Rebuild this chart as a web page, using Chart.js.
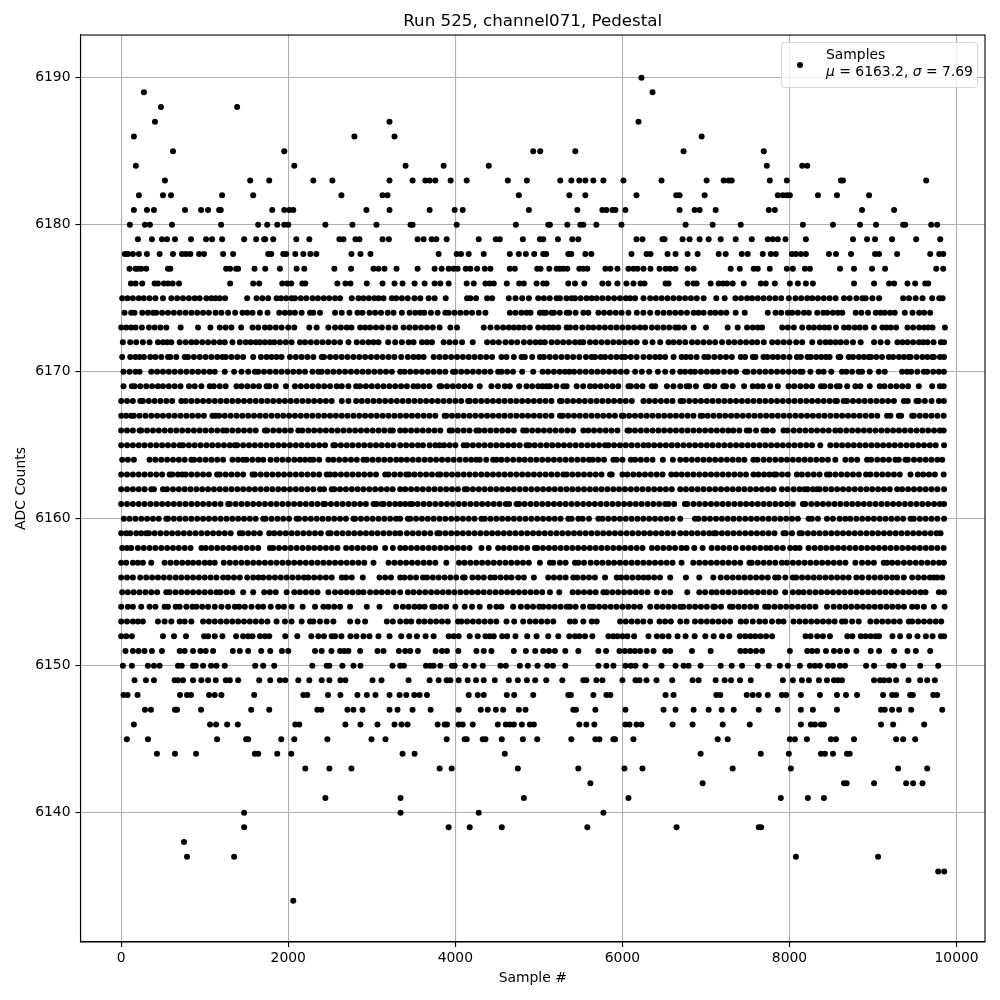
<!DOCTYPE html>
<html>
<head>
<meta charset="utf-8">
<title>Run 525, channel071, Pedestal</title>
<script src="https://cdn.jsdelivr.net/npm/chart.js@4"></script>
<style>
  html, body { margin: 0; padding: 0; background: #fff; }
  canvas { display: block; }
</style>
</head>
<body>
<canvas id="pedestalChart" width="1000" height="1000"></canvas>
<script>
// Sample numbers, one list per ADC level
const adc6190 = [6228];
const adc6189 = [272, 6360];
const adc6188 = [476, 1388];
const adc6187 = [404, 3212, 6192];
const adc6186 = [152, 2792, 3272, 6948];
const adc6185 = [620, 1952, 4932, 5016, 5436, 6732, 7692];
const adc6184 = [176, 2072, 3404, 3860, 4400, 7728, 8152, 8212];
const adc6183 = [524, 1544, 1772, 2300, 2528, 3212, 3488, 3640, 3692, 3760, 3944, 4136, 4628, 4856, 5256, 5388, 5484, 5556, 5652, 5772, 6012, 6468, 7008, 7212, 7272, 7308, 7764, 7968, 8616, 8640, 9636];
const adc6182 = [212, 500, 596, 1208, 1580, 2636, 3128, 3188, 4760, 5364, 5556, 6168, 6644, 6684, 6984, 7860, 7920, 7968, 8004, 8340, 8568, 8952];
const adc6181 = [152, 308, 392, 764, 956, 1040, 1172, 1192, 1808, 1952, 2012, 2060, 2936, 3212, 3692, 3992, 4088, 4880, 5460, 5760, 5808, 5880, 5916, 6036, 6684, 6864, 6924, 7116, 7752, 7824, 8868, 9252];
const adc6180 = [104, 284, 344, 608, 1196, 1640, 1748, 1868, 1952, 2000, 2444, 2768, 3056, 3464, 3488, 4016, 4724, 5112, 5132, 5340, 5496, 5532, 5688, 5988, 6756, 7080, 7416, 8160, 8520, 8844, 9036, 9360, 9384, 9696, 9768];
const adc6179 = [200, 368, 488, 548, 644, 836, 1016, 1088, 1208, 1472, 1616, 1712, 1724, 1820, 2096, 2252, 2612, 2660, 2804, 2852, 3128, 3204, 3548, 3620, 3716, 3772, 3896, 4280, 4484, 4532, 4808, 5012, 5052, 5228, 5400, 5472, 6168, 6240, 6480, 6504, 6720, 6804, 6924, 7032, 7176, 7356, 7548, 7740, 7800, 7860, 7952, 8196, 8760, 8928, 9024, 9228, 9516, 9804];
const adc6178 = [44, 80, 140, 212, 308, 460, 620, 728, 776, 828, 932, 992, 1220, 1340, 1760, 1796, 1940, 1976, 2084, 2180, 2264, 2336, 2756, 2864, 2984, 3800, 4016, 4068, 4160, 4340, 4652, 4760, 4844, 4944, 5052, 5088, 5352, 5388, 5556, 5628, 6108, 6288, 6336, 6540, 6636, 6780, 6900, 7152, 7236, 7428, 7500, 7680, 7776, 7836, 8028, 8076, 8136, 8196, 8472, 8556, 8736, 9024, 9072, 9288, 9684, 9792, 9840];
const adc6177 = [100, 172, 200, 240, 300, 560, 588, 1256, 1304, 1376, 1400, 1596, 1724, 1900, 2100, 2192, 2552, 2752, 3020, 3080, 3152, 3296, 3548, 3752, 3836, 3920, 3980, 4028, 4124, 4180, 4260, 4352, 4420, 4652, 4712, 4980, 5020, 5124, 5212, 5252, 5292, 5340, 5484, 5530, 5580, 5796, 5856, 5940, 6072, 6132, 6180, 6252, 6336, 6444, 6516, 6572, 6636, 6780, 6852, 7296, 7404, 7572, 7620, 7764, 7968, 8040, 8184, 8244, 8604, 8772, 8988, 9144, 9756, 9840];
const adc6176 = [116, 172, 252, 400, 440, 512, 560, 616, 692, 1304, 1580, 1652, 1928, 1988, 2036, 2168, 2204, 2588, 2684, 2744, 2940, 3128, 3272, 3368, 3512, 3632, 3752, 3820, 3920, 4136, 4220, 4360, 4410, 4460, 4616, 4764, 4820, 4972, 5052, 5092, 5352, 5432, 5544, 5760, 5832, 5940, 6048, 6132, 6216, 6264, 6516, 6552, 6780, 6852, 6888, 7056, 7152, 7204, 7252, 7320, 7452, 7656, 7716, 7824, 8004, 8100, 8196, 8280, 8772, 9012, 9192, 9252, 9412, 9504, 9624, 9660];
const adc6175 = [12, 75, 140, 210, 270, 340, 410, 500, 600, 670, 740, 810, 880, 940, 1020, 1080, 1130, 1180, 1244, 1508, 1620, 1690, 1760, 1860, 1912, 1975, 2040, 2080, 2150, 2215, 2290, 2355, 2425, 2490, 2560, 2620, 2760, 2840, 2900, 2965, 3030, 3080, 3140, 3240, 3292, 3360, 3430, 3510, 3580, 3680, 3752, 3884, 4140, 4180, 4248, 4380, 4440, 4640, 4720, 4800, 4880, 4992, 5060, 5130, 5212, 5252, 5330, 5392, 5432, 5500, 5570, 5632, 5692, 5760, 5830, 5900, 5970, 6040, 6092, 6152, 6252, 6332, 6400, 6470, 6540, 6610, 6680, 6750, 6820, 6890, 6972, 7124, 7224, 7352, 7420, 7492, 7552, 7620, 7690, 7760, 7830, 7900, 7992, 8072, 8140, 8212, 8272, 8340, 8410, 8480, 8552, 8652, 8720, 8800, 8872, 8912, 8992, 9072, 9360, 9430, 9510, 9592, 9708, 9792, 9832];
const adc6174 = [40, 120, 160, 252, 320, 380, 420, 490, 560, 630, 700, 770, 840, 910, 980, 1050, 1130, 1200, 1280, 1364, 1452, 1508, 1572, 1660, 1752, 1892, 1960, 2020, 2080, 2160, 2260, 2300, 2380, 2560, 2640, 2732, 2828, 2888, 2972, 3040, 3110, 3190, 3260, 3360, 3452, 3520, 3580, 3628, 3708, 3788, 3880, 3920, 3990, 4060, 4130, 4200, 4280, 4360, 4652, 4720, 4790, 4850, 4900, 5012, 5052, 5084, 5152, 5180, 5250, 5332, 5364, 5440, 5532, 5592, 5712, 5780, 5850, 5920, 5990, 6072, 6172, 6250, 6332, 6420, 6492, 6564, 6632, 6700, 6772, 6852, 6910, 6972, 7052, 7112, 7180, 7244, 7356, 7464, 7740, 7832, 7900, 7980, 8032, 8100, 8172, 8232, 8332, 8404, 8452, 8520, 8580, 8632, 8792, 8860, 8940, 9032, 9090, 9140, 9204, 9260, 9380, 9472, 9552, 9612, 9684];
const adc6173 = [0, 60, 120, 172, 248, 332, 400, 470, 540, 712, 920, 1068, 1180, 1250, 1320, 1436, 1572, 1640, 1720, 1780, 1850, 1920, 2000, 2072, 2252, 2340, 2480, 2560, 2630, 2700, 2756, 2860, 2920, 2980, 3050, 3120, 3200, 3280, 3380, 3450, 3520, 3590, 3660, 3730, 3812, 3940, 4020, 4340, 4420, 4500, 4572, 4640, 4700, 4760, 4820, 4892, 4992, 5060, 5120, 5172, 5232, 5332, 5372, 5440, 5520, 5592, 5652, 5720, 5790, 5860, 5930, 6000, 6070, 6140, 6210, 6272, 6352, 6420, 6490, 6560, 6632, 6672, 6740, 6852, 7000, 7260, 7380, 7492, 7560, 7620, 7672, 7912, 7980, 8052, 8152, 8232, 8292, 8360, 8420, 8472, 8556, 8652, 8710, 8780, 8840, 8908, 9012, 9112, 9160, 9212, 9276, 9412, 9480, 9552, 9612, 9660, 9712, 9860];
const adc6172 = [20, 108, 180, 260, 340, 440, 500, 550, 600, 700, 772, 840, 900, 970, 1040, 1110, 1180, 1240, 1332, 1420, 1490, 1550, 1612, 1660, 1720, 1780, 1832, 1900, 1970, 2040, 2140, 2200, 2270, 2340, 2410, 2480, 2550, 2620, 2720, 2820, 2890, 2960, 3020, 3080, 3196, 3280, 3360, 3440, 3500, 3600, 3660, 3720, 3860, 3930, 4000, 4080, 4208, 4380, 4450, 4520, 4600, 4670, 4740, 4820, 4892, 4960, 5020, 5072, 5152, 5220, 5290, 5360, 5432, 5492, 5532, 5612, 5680, 5750, 5820, 5890, 5960, 6030, 6100, 6170, 6272, 6360, 6452, 6552, 6612, 6680, 6752, 6832, 6900, 6970, 7040, 7110, 7192, 7272, 7340, 7410, 7480, 7550, 7612, 7692, 7792, 7860, 7930, 8000, 8080, 8152, 8272, 8364, 8432, 8490, 8552, 8612, 8680, 8760, 8852, 9012, 9090, 9172, 9292, 9352, 9412, 9480, 9550, 9600, 9652, 9724, 9812, 9850];
const adc6171 = [12, 108, 170, 220, 272, 348, 410, 480, 560, 588, 660, 760, 800, 870, 940, 1010, 1080, 1150, 1212, 1252, 1320, 1390, 1460, 1580, 1672, 1740, 1800, 1860, 1920, 2020, 2090, 2160, 2230, 2300, 2400, 2428, 2500, 2570, 2640, 2710, 2780, 2850, 2920, 2990, 3060, 3130, 3200, 3270, 3352, 3432, 3500, 3560, 3620, 3740, 3810, 3880, 3950, 4020, 4090, 4160, 4230, 4300, 4370, 4440, 4552, 4612, 4700, 4792, 4832, 4920, 5012, 5060, 5130, 5200, 5270, 5340, 5410, 5484, 5564, 5632, 5672, 5740, 5792, 5860, 5930, 5992, 6032, 6100, 6170, 6252, 6324, 6392, 6450, 6512, 6612, 6708, 6760, 6816, 6888, 6980, 7028, 7100, 7170, 7240, 7310, 7416, 7468, 7560, 7592, 7688, 7736, 7800, 7860, 7928, 8000, 8088, 8136, 8216, 8256, 8320, 8380, 8436, 8480, 8588, 8608, 8708, 8760, 8830, 8890, 8948, 8976, 9040, 9108, 9188, 9240, 9310, 9370, 9428, 9448, 9520, 9590, 9650, 9708, 9728, 9800, 9850];
const adc6170 = [28, 100, 170, 220, 360, 430, 500, 570, 640, 710, 780, 850, 920, 990, 1060, 1120, 1240, 1352, 1440, 1520, 1600, 1640, 1710, 1780, 1850, 1920, 1990, 2060, 2130, 2200, 2290, 2360, 2400, 2470, 2540, 2610, 2680, 2750, 2820, 2890, 2960, 3030, 3100, 3170, 3240, 3340, 3392, 3460, 3530, 3600, 3670, 3740, 3810, 3880, 3972, 4000, 4070, 4140, 4210, 4280, 4350, 4420, 4512, 4552, 4620, 4690, 4800, 4932, 5044, 5110, 5180, 5250, 5312, 5364, 5420, 5490, 5560, 5630, 5700, 5770, 5840, 5910, 5980, 6050, 6152, 6232, 6320, 6424, 6512, 6600, 6692, 6750, 6816, 6868, 6940, 7010, 7080, 7140, 7216, 7290, 7360, 7468, 7496, 7570, 7640, 7710, 7780, 7850, 7920, 7990, 8060, 8128, 8156, 8250, 8348, 8408, 8500, 8628, 8680, 8750, 8828, 8868, 8960, 9068, 9140, 9348, 9408, 9456, 9530, 9608, 9648, 9720, 9788, 9848];
const adc6169 = [28, 128, 160, 228, 300, 370, 440, 500, 570, 640, 710, 812, 880, 960, 1060, 1108, 1180, 1250, 1380, 1440, 1510, 1580, 1650, 1740, 1772, 1850, 1972, 2080, 2150, 2220, 2290, 2360, 2430, 2500, 2580, 2640, 2720, 2812, 2860, 2930, 3000, 3070, 3140, 3210, 3280, 3350, 3420, 3500, 3552, 3620, 3690, 3812, 3832, 3900, 3970, 4040, 4110, 4180, 4292, 4432, 4510, 4592, 4652, 4764, 4852, 4920, 4992, 5044, 5092, 5132, 5210, 5292, 5332, 5452, 5530, 5612, 5672, 5740, 5810, 5880, 5950, 6072, 6100, 6170, 6240, 6352, 6392, 6532, 6610, 6692, 6768, 6800, 6880, 7000, 7028, 7100, 7208, 7240, 7320, 7456, 7560, 7620, 7680, 7768, 7860, 7988, 8056, 8130, 8200, 8270, 8376, 8416, 8490, 8568, 8600, 8690, 8788, 8848, 8960, 9080, 9136, 9210, 9280, 9350, 9420, 9548, 9708, 9800, 9845];
const adc6168 = [0, 70, 140, 228, 260, 330, 400, 470, 540, 610, 720, 772, 840, 910, 980, 1050, 1120, 1190, 1260, 1330, 1400, 1470, 1540, 1610, 1680, 1750, 1820, 1890, 1960, 2030, 2100, 2170, 2240, 2310, 2380, 2450, 2520, 2640, 2720, 2812, 2880, 2950, 3020, 3090, 3160, 3230, 3300, 3370, 3440, 3510, 3580, 3650, 3720, 3790, 3860, 3930, 4000, 4070, 4152, 4172, 4240, 4310, 4380, 4450, 4520, 4590, 4660, 4730, 4800, 4870, 4940, 5010, 5080, 5150, 5252, 5272, 5340, 5410, 5480, 5550, 5620, 5690, 5760, 5830, 5900, 5970, 6040, 6112, 6252, 6320, 6390, 6460, 6530, 6600, 6696, 6728, 6800, 6870, 6940, 7010, 7080, 7150, 7220, 7290, 7360, 7430, 7500, 7570, 7640, 7710, 7780, 7850, 7920, 7990, 8060, 8130, 8200, 8270, 8340, 8410, 8480, 8548, 8568, 8648, 8688, 8760, 8830, 8900, 8970, 9040, 9110, 9180, 9250, 9368, 9416, 9520, 9548, 9620, 9700, 9788, 9848];
const adc6167 = [0, 60, 120, 152, 220, 290, 360, 430, 500, 570, 640, 710, 780, 850, 920, 990, 1092, 1128, 1172, 1240, 1310, 1380, 1450, 1520, 1590, 1660, 1730, 1800, 1870, 1940, 2010, 2080, 2150, 2220, 2290, 2360, 2430, 2500, 2570, 2640, 2710, 2780, 2850, 2920, 2990, 3060, 3130, 3200, 3270, 3340, 3410, 3480, 3550, 3620, 3690, 3760, 3872, 3892, 3960, 4030, 4100, 4170, 4240, 4310, 4380, 4450, 4520, 4590, 4660, 4730, 4800, 4870, 4940, 5010, 5080, 5150, 5252, 5284, 5350, 5420, 5490, 5560, 5630, 5700, 5770, 5840, 5910, 5992, 6012, 6080, 6150, 6220, 6290, 6360, 6430, 6500, 6570, 6640, 6710, 6780, 6850, 6936, 6956, 7020, 7090, 7160, 7230, 7300, 7370, 7440, 7510, 7580, 7650, 7720, 7790, 7860, 7930, 8000, 8070, 8140, 8210, 8280, 8350, 8420, 8490, 8560, 8630, 8700, 8770, 8840, 8910, 8980, 9050, 9168, 9208, 9308, 9336, 9468, 9488, 9560, 9630, 9700, 9770, 9845];
const adc6166 = [0, 70, 140, 220, 240, 310, 380, 450, 520, 590, 660, 730, 800, 870, 940, 1010, 1080, 1150, 1220, 1260, 1330, 1400, 1470, 1540, 1610, 1720, 1748, 1820, 1890, 1960, 2030, 2120, 2168, 2240, 2310, 2380, 2450, 2520, 2590, 2660, 2730, 2800, 2870, 2940, 3010, 3080, 3150, 3220, 3252, 3340, 3400, 3470, 3540, 3610, 3680, 3750, 3820, 3932, 3960, 4030, 4100, 4170, 4252, 4284, 4350, 4420, 4490, 4560, 4630, 4700, 4812, 4852, 4920, 4990, 5060, 5130, 5200, 5270, 5340, 5410, 5532, 5592, 5660, 5730, 5800, 5870, 5940, 6060, 6084, 6150, 6220, 6290, 6360, 6430, 6500, 6570, 6640, 6710, 6780, 6850, 6920, 6990, 7060, 7130, 7200, 7268, 7328, 7400, 7488, 7520, 7600, 7688, 7728, 7800, 7928, 7976, 8050, 8120, 8190, 8260, 8330, 8400, 8470, 8548, 8608, 8680, 8750, 8820, 8890, 8960, 9030, 9100, 9170, 9240, 9310, 9380, 9450, 9520, 9590, 9660, 9730, 9800, 9845];
const adc6165 = [0, 70, 140, 210, 280, 350, 420, 490, 560, 630, 700, 740, 810, 880, 950, 1020, 1090, 1160, 1230, 1300, 1360, 1388, 1460, 1530, 1600, 1670, 1740, 1810, 1880, 1950, 2020, 2090, 2160, 2230, 2300, 2370, 2440, 2540, 2560, 2630, 2700, 2770, 2840, 2910, 2980, 3050, 3120, 3190, 3260, 3340, 3410, 3480, 3552, 3612, 3692, 3760, 3812, 3864, 3932, 4000, 4100, 4140, 4210, 4280, 4350, 4420, 4490, 4560, 4630, 4700, 4770, 4852, 4884, 4950, 5020, 5090, 5160, 5230, 5300, 5370, 5440, 5510, 5580, 5650, 5720, 5792, 5832, 5900, 5970, 6040, 6110, 6180, 6252, 6312, 6380, 6450, 6520, 6590, 6660, 6730, 6800, 6870, 6940, 7010, 7080, 7150, 7220, 7290, 7360, 7430, 7500, 7570, 7640, 7710, 7780, 7850, 7920, 7990, 8060, 8130, 8200, 8270, 8368, 8488, 8560, 8630, 8700, 8770, 8840, 8910, 8980, 9050, 9120, 9190, 9260, 9330, 9400, 9470, 9540, 9610, 9680, 9750, 9850];
const adc6164 = [12, 80, 152, 340, 410, 480, 550, 620, 690, 760, 840, 872, 940, 1010, 1080, 1150, 1220, 1332, 1400, 1460, 1500, 1570, 1640, 1700, 1788, 1860, 1930, 2000, 2072, 2140, 2200, 2260, 2300, 2370, 2480, 2540, 2610, 2680, 2750, 2820, 2900, 2940, 3010, 3080, 3150, 3220, 3292, 3352, 3420, 3490, 3560, 3632, 3700, 3770, 3840, 3910, 3980, 4052, 4124, 4190, 4252, 4292, 4370, 4452, 4492, 4552, 4620, 4692, 4764, 4830, 4900, 4970, 5040, 5110, 5180, 5250, 5320, 5390, 5460, 5530, 5600, 5644, 5710, 5780, 5892, 5932, 6000, 6100, 6152, 6220, 6290, 6360, 6484, 6604, 6692, 6760, 6830, 6900, 6970, 7040, 7110, 7180, 7250, 7320, 7390, 7460, 7568, 7616, 7690, 7760, 7830, 7900, 7970, 8040, 8110, 8180, 8250, 8320, 8390, 8460, 8548, 8668, 8740, 8810, 8928, 8976, 9050, 9120, 9190, 9268, 9308, 9388, 9416, 9490, 9560, 9630, 9700, 9770, 9828];
const adc6163 = [0, 70, 140, 210, 280, 350, 420, 490, 580, 612, 680, 732, 772, 840, 910, 980, 1050, 1148, 1180, 1250, 1320, 1390, 1460, 1572, 1600, 1670, 1740, 1810, 1880, 1950, 2020, 2090, 2160, 2230, 2300, 2370, 2460, 2500, 2560, 2630, 2700, 2770, 2840, 2910, 2980, 3050, 3160, 3200, 3270, 3340, 3412, 3444, 3510, 3580, 3650, 3720, 3792, 3820, 3890, 3960, 4030, 4100, 4170, 4240, 4310, 4380, 4450, 4520, 4590, 4660, 4730, 4800, 4870, 4940, 5010, 5080, 5150, 5220, 5292, 5332, 5400, 5470, 5540, 5610, 5680, 5750, 5852, 5872, 6000, 6060, 6130, 6200, 6270, 6340, 6410, 6480, 6584, 6644, 6710, 6780, 6850, 6920, 6990, 7060, 7130, 7200, 7270, 7340, 7410, 7480, 7568, 7628, 7696, 7760, 7816, 7840, 7910, 7980, 8088, 8148, 8220, 8290, 8360, 8448, 8480, 8550, 8620, 8690, 8760, 8830, 8916, 8968, 9040, 9110, 9180, 9250, 9320, 9448, 9536, 9600, 9670, 9740, 9845];
const adc6162 = [0, 70, 140, 210, 280, 360, 392, 500, 548, 620, 690, 760, 830, 900, 970, 1040, 1110, 1180, 1250, 1320, 1390, 1460, 1530, 1600, 1670, 1740, 1810, 1880, 1950, 2020, 2090, 2160, 2230, 2300, 2380, 2428, 2520, 2552, 2620, 2690, 2760, 2830, 2900, 2970, 3040, 3110, 3180, 3250, 3340, 3400, 3470, 3540, 3610, 3680, 3750, 3820, 3890, 3960, 4030, 4112, 4140, 4210, 4280, 4350, 4420, 4490, 4560, 4630, 4700, 4770, 4840, 4910, 4980, 5050, 5120, 5190, 5260, 5330, 5400, 5470, 5540, 5610, 5680, 5750, 5820, 5890, 5960, 6030, 6100, 6170, 6240, 6310, 6380, 6450, 6520, 6590, 6692, 6760, 6830, 6900, 6970, 7040, 7110, 7180, 7250, 7320, 7390, 7460, 7530, 7600, 7670, 7740, 7810, 7908, 7976, 8050, 8120, 8180, 8216, 8280, 8328, 8360, 8430, 8500, 8570, 8640, 8710, 8780, 8850, 8920, 8990, 9060, 9130, 9200, 9288, 9348, 9420, 9490, 9560, 9630, 9700, 9770, 9850];
const adc6161 = [0, 70, 140, 210, 280, 350, 420, 490, 560, 630, 700, 770, 840, 910, 980, 1050, 1120, 1190, 1280, 1300, 1370, 1440, 1510, 1580, 1650, 1720, 1790, 1860, 1930, 2000, 2070, 2140, 2210, 2280, 2350, 2420, 2440, 2510, 2580, 2650, 2720, 2790, 2860, 2930, 3020, 3060, 3120, 3140, 3210, 3280, 3340, 3400, 3460, 3484, 3550, 3620, 3690, 3760, 3830, 3900, 3970, 4040, 4110, 4180, 4250, 4320, 4390, 4460, 4530, 4604, 4644, 4732, 4764, 4830, 4900, 4970, 5040, 5110, 5180, 5250, 5320, 5390, 5460, 5530, 5600, 5670, 5740, 5810, 5880, 5950, 6020, 6090, 6160, 6230, 6300, 6370, 6440, 6512, 6552, 6620, 6748, 6776, 6850, 6920, 6990, 7060, 7130, 7200, 7270, 7340, 7410, 7480, 7550, 7620, 7690, 7760, 7830, 7900, 7970, 8040, 8160, 8188, 8260, 8330, 8400, 8470, 8540, 8610, 8680, 8750, 8820, 8890, 8960, 9030, 9100, 9170, 9240, 9310, 9380, 9450, 9520, 9590, 9660, 9730, 9800, 9850];
const adc6160 = [32, 100, 170, 240, 310, 380, 450, 540, 560, 630, 700, 770, 840, 910, 980, 1050, 1120, 1190, 1260, 1330, 1400, 1470, 1540, 1610, 1700, 1728, 1800, 1870, 1940, 2010, 2100, 2128, 2200, 2270, 2340, 2410, 2480, 2550, 2620, 2690, 2780, 2800, 2870, 2940, 3010, 3080, 3150, 3220, 3290, 3340, 3432, 3460, 3530, 3600, 3670, 3740, 3810, 3880, 3950, 4020, 4090, 4160, 4230, 4312, 4352, 4420, 4490, 4560, 4630, 4700, 4770, 4840, 4910, 4980, 5050, 5120, 5190, 5260, 5352, 5392, 5472, 5524, 5600, 5712, 5760, 5830, 5900, 5970, 6040, 6110, 6180, 6250, 6320, 6390, 6460, 6530, 6600, 6692, 6868, 6908, 6980, 7048, 7120, 7190, 7260, 7330, 7400, 7470, 7540, 7610, 7680, 7750, 7820, 7890, 7960, 8030, 8100, 8228, 8268, 8340, 8448, 8520, 8600, 8668, 8728, 8800, 8870, 8940, 9010, 9080, 9150, 9220, 9290, 9360, 9448, 9488, 9560, 9630, 9700, 9770, 9850];
const adc6159 = [0, 60, 108, 180, 240, 300, 332, 400, 470, 540, 610, 680, 750, 820, 890, 960, 1030, 1100, 1170, 1240, 1310, 1420, 1452, 1520, 1590, 1660, 1772, 1832, 1900, 1970, 2040, 2110, 2180, 2250, 2320, 2390, 2480, 2508, 2580, 2650, 2720, 2790, 2860, 2930, 3000, 3070, 3140, 3210, 3280, 3340, 3420, 3490, 3560, 3630, 3700, 3784, 3812, 3880, 3950, 4020, 4090, 4160, 4230, 4300, 4370, 4440, 4510, 4580, 4650, 4720, 4790, 4860, 4930, 5000, 5070, 5140, 5210, 5280, 5350, 5420, 5490, 5560, 5630, 5700, 5770, 5840, 5910, 5980, 6050, 6120, 6190, 6260, 6330, 6400, 6470, 6540, 6610, 6692, 6760, 6830, 6900, 6970, 7040, 7096, 7120, 7190, 7260, 7330, 7400, 7470, 7540, 7610, 7680, 7750, 7820, 7928, 7956, 8030, 8120, 8148, 8220, 8290, 8360, 8430, 8500, 8570, 8640, 8710, 8780, 8850, 8920, 8990, 9060, 9130, 9200, 9270, 9340, 9410, 9480, 9550, 9620, 9690, 9760, 9808];
const adc6158 = [12, 70, 120, 200, 270, 340, 410, 480, 550, 620, 690, 760, 830, 960, 1012, 1080, 1150, 1220, 1290, 1360, 1430, 1500, 1570, 1640, 1780, 1820, 1890, 1960, 2030, 2100, 2170, 2240, 2310, 2380, 2450, 2520, 2590, 2692, 2760, 2830, 2900, 2970, 3040, 3160, 3252, 3340, 3400, 3470, 3540, 3610, 3680, 3750, 3820, 3890, 3960, 4030, 4100, 4170, 4312, 4400, 4512, 4580, 4650, 4720, 4790, 4860, 4952, 4980, 5050, 5120, 5190, 5260, 5330, 5400, 5470, 5540, 5610, 5680, 5750, 5820, 5890, 5960, 6030, 6100, 6170, 6240, 6352, 6420, 6490, 6560, 6630, 6708, 6768, 6860, 6960, 7068, 7140, 7210, 7280, 7356, 7440, 7510, 7580, 7650, 7720, 7776, 7848, 7920, 8008, 8070, 8120, 8228, 8300, 8370, 8440, 8510, 8580, 8650, 8720, 8790, 8860, 8930, 9000, 9070, 9140, 9210, 9280, 9350, 9420, 9490, 9560, 9630, 9700, 9770, 9845];
const adc6157 = [0, 60, 140, 200, 260, 360, 520, 590, 660, 730, 800, 860, 928, 1000, 1060, 1120, 1228, 1300, 1370, 1440, 1510, 1580, 1650, 1720, 1790, 1860, 1930, 2000, 2070, 2140, 2210, 2280, 2350, 2420, 2490, 2560, 2630, 2700, 2770, 2840, 2910, 3020, 3200, 3270, 3340, 3410, 3480, 3550, 3620, 3690, 3760, 3892, 4044, 4110, 4180, 4250, 4320, 4390, 4460, 4530, 4600, 4670, 4740, 4810, 4880, 5012, 5132, 5172, 5252, 5320, 5432, 5472, 5540, 5620, 5692, 5760, 5832, 5900, 5970, 6040, 6110, 6180, 6250, 6320, 6390, 6460, 6530, 6600, 6708, 6848, 6920, 6990, 7060, 7130, 7200, 7270, 7340, 7410, 7520, 7548, 7620, 7690, 7760, 7830, 7908, 7968, 8040, 8110, 8180, 8250, 8320, 8390, 8460, 8530, 8600, 8670, 8788, 8868, 8940, 9010, 9128, 9168, 9228, 9296, 9370, 9440, 9510, 9580, 9650, 9720, 9790, 9848];
const adc6156 = [0, 70, 140, 228, 300, 370, 440, 510, 580, 652, 720, 790, 860, 930, 1000, 1070, 1140, 1220, 1280, 1350, 1420, 1508, 1580, 1644, 1700, 1770, 1840, 1910, 1980, 2050, 2120, 2188, 2240, 2310, 2380, 2450, 2520, 2640, 2692, 2760, 2892, 3092, 3160, 3230, 3340, 3392, 3460, 3530, 3612, 3660, 3730, 3800, 3870, 3940, 4010, 4092, 4112, 4204, 4272, 4340, 4420, 4472, 4540, 4610, 4672, 4752, 4820, 4940, 5112, 5180, 5250, 5320, 5412, 5460, 5530, 5600, 5670, 5792, 5932, 5984, 6050, 6120, 6190, 6252, 6312, 6380, 6450, 6572, 6760, 6920, 7088, 7176, 7250, 7320, 7390, 7460, 7530, 7600, 7670, 7740, 7828, 7868, 7950, 8040, 8080, 8150, 8220, 8290, 8360, 8430, 8500, 8570, 8640, 8708, 8800, 8868, 8948, 9020, 9090, 9160, 9230, 9288, 9368, 9468, 9540, 9610, 9680, 9728, 9768, 9828];
const adc6155 = [12, 80, 150, 220, 290, 360, 430, 540, 580, 650, 720, 790, 860, 930, 1000, 1070, 1140, 1188, 1260, 1330, 1460, 1580, 1712, 1780, 1850, 1980, 2072, 2140, 2210, 2280, 2350, 2480, 2560, 2630, 2700, 2770, 2840, 2900, 2980, 3052, 3120, 3190, 3260, 3340, 3432, 3500, 3570, 3640, 3710, 3780, 3850, 3920, 3990, 4060, 4130, 4200, 4270, 4340, 4410, 4480, 4550, 4620, 4690, 4760, 4830, 4900, 4970, 5040, 5132, 5244, 5404, 5470, 5540, 5610, 5680, 5772, 5812, 5880, 5950, 6020, 6090, 6160, 6230, 6300, 6412, 6500, 6572, 6776, 6920, 6990, 7068, 7128, 7200, 7270, 7340, 7410, 7480, 7550, 7620, 7690, 7760, 7830, 7948, 8040, 8108, 8168, 8240, 8310, 8380, 8450, 8520, 8590, 8660, 8730, 8800, 8870, 8940, 9010, 9080, 9150, 9220, 9290, 9360, 9430, 9500, 9570, 9628, 9788, 9850];
const adc6154 = [0, 80, 140, 240, 340, 410, 520, 560, 652, 700, 780, 852, 900, 970, 1040, 1120, 1200, 1280, 1360, 1412, 1480, 1560, 1640, 1700, 1790, 1880, 1948, 2040, 2172, 2320, 2420, 2480, 2550, 2620, 2740, 2940, 3092, 3292, 3372, 3440, 3510, 3572, 3632, 3724, 3752, 3820, 3890, 4000, 4112, 4200, 4292, 4412, 4492, 4552, 4692, 4784, 4860, 4930, 5004, 5052, 5120, 5190, 5260, 5332, 5372, 5440, 5530, 5612, 5652, 5720, 5790, 5860, 5930, 6000, 6070, 6140, 6210, 6332, 6412, 6480, 6550, 6620, 6692, 6728, 6800, 6870, 6940, 7010, 7088, 7108, 7180, 7288, 7320, 7390, 7460, 7530, 7600, 7708, 7748, 7820, 7890, 7960, 8030, 8100, 8170, 8240, 8310, 8448, 8528, 8600, 8670, 8740, 8810, 8880, 8950, 9020, 9090, 9160, 9230, 9300, 9370, 9468, 9528, 9608, 9728, 9856];
const adc6153 = [0, 70, 140, 200, 260, 440, 520, 600, 700, 760, 840, 980, 1050, 1120, 1190, 1260, 1330, 1400, 1470, 1540, 1610, 1680, 1750, 1860, 1960, 2040, 2160, 2260, 2300, 2380, 2460, 2540, 2740, 2830, 2920, 3180, 3252, 3340, 3412, 3472, 3564, 3630, 3700, 3770, 3840, 3910, 4032, 4072, 4140, 4210, 4280, 4350, 4420, 4490, 4612, 4704, 4812, 4892, 4960, 5030, 5100, 5172, 5372, 5432, 5532, 5632, 5692, 5972, 6040, 6110, 6180, 6250, 6332, 6444, 6510, 6580, 6692, 6768, 6868, 6940, 7010, 7080, 7150, 7220, 7290, 7416, 7480, 7560, 7640, 7708, 7790, 7868, 7928, 8048, 8120, 8190, 8260, 8330, 8400, 8470, 8540, 8628, 8668, 8750, 8828, 8968, 9040, 9110, 9180, 9250, 9320, 9428, 9468, 9540, 9610, 9680, 9750, 9816];
const adc6152 = [0, 60, 128, 500, 632, 776, 992, 1040, 1120, 1212, 1376, 1460, 1520, 1572, 1660, 1720, 1772, 1964, 2108, 2276, 2360, 2428, 2520, 2560, 2636, 2744, 2816, 2900, 2972, 3080, 3212, 3352, 3448, 3540, 3644, 3740, 3920, 3980, 4040, 4172, 4268, 4360, 4410, 4460, 4560, 4620, 4720, 4860, 4972, 5112, 5232, 5364, 5432, 5484, 5552, 5640, 5832, 5890, 5940, 6000, 6060, 6140, 6312, 6412, 6480, 6552, 6660, 6756, 6864, 6992, 7092, 7192, 7280, 7404, 7470, 7532, 7590, 7652, 7720, 7792, 8192, 8252, 8332, 8400, 8484, 8692, 8752, 8852, 8910, 8972, 9030, 9072, 9232, 9324, 9432, 9532, 9632, 9712, 9812, 9850];
const adc6151 = [52, 140, 208, 280, 368, 488, 700, 760, 860, 948, 1012, 1100, 1336, 1420, 1520, 1676, 1784, 1924, 2000, 2320, 2400, 2516, 2620, 2670, 2720, 2860, 3068, 3140, 3324, 3400, 3460, 3552, 3764, 3840, 3900, 4036, 4252, 4340, 4432, 4700, 4844, 4956, 5052, 5120, 5192, 5316, 5472, 5712, 5804, 5964, 6030, 6092, 6150, 6212, 6290, 6372, 6512, 6572, 6832, 7056, 7412, 7470, 7532, 7600, 7672, 8004, 8212, 8270, 8332, 8436, 8532, 8604, 8688, 8800, 8972, 9072, 9252, 9412, 9512, 9684];
const adc6150 = [20, 128, 320, 392, 460, 680, 724, 860, 892, 980, 1076, 1140, 1240, 1604, 1700, 1832, 2288, 2460, 2492, 2648, 2780, 2864, 3248, 3340, 3384, 3648, 3700, 3740, 3820, 3960, 3992, 4120, 4220, 4328, 4540, 4604, 4772, 4868, 4984, 5100, 5168, 5316, 5712, 5808, 5892, 6036, 6100, 6156, 6276, 6468, 6636, 6732, 6792, 6936, 7176, 7308, 7432, 7620, 7752, 7884, 7980, 8124, 8244, 8304, 8364, 8460, 8520, 8604, 8664, 8916, 9012, 9192, 9252, 9360, 9564, 9780];
const adc6149 = [160, 296, 392, 640, 680, 740, 860, 960, 1040, 1132, 1252, 1300, 1400, 1652, 1784, 1900, 1964, 2120, 2252, 2400, 2492, 2624, 2684, 3008, 3116, 3440, 3692, 3800, 3896, 3940, 4040, 4148, 4248, 4340, 4472, 4640, 4748, 4856, 4956, 5088, 5280, 5532, 5568, 5688, 5760, 6000, 6156, 6204, 6288, 6408, 6596, 6840, 6912, 7116, 7224, 7300, 7408, 7536, 7920, 8040, 8148, 8232, 8352, 8448, 8532, 8580, 8628, 9012, 9084, 9132, 9192, 9276, 9424, 9564, 9648, 9740];
const adc6148 = [28, 76, 196, 704, 788, 836, 1052, 1120, 1200, 1592, 2180, 2228, 2476, 2624, 2828, 2940, 3044, 3212, 3332, 3412, 3508, 3572, 3660, 4160, 4268, 4340, 4616, 4704, 4932, 5352, 5384, 5652, 5808, 5856, 6516, 6612, 7124, 7172, 7488, 7560, 7632, 7740, 7908, 7960, 8136, 8364, 8568, 8676, 8808, 9120, 9228, 9276, 9444, 9476, 9720, 9768];
const adc6147 = [284, 356, 644, 668, 956, 1556, 1772, 2348, 2396, 2708, 2780, 2888, 3212, 3308, 3488, 3704, 4040, 4304, 4388, 4484, 4572, 4760, 4840, 5412, 5444, 5676, 6036, 6492, 6636, 6852, 7032, 7188, 7332, 7632, 7860, 8136, 8280, 8568, 9096, 9140, 9228, 9312, 9456, 9828];
const adc6146 = [152, 1064, 1136, 1268, 1396, 2084, 2132, 2684, 2864, 3068, 3272, 3356, 3428, 3788, 3872, 3900, 4040, 4088, 4208, 4508, 4604, 4652, 4700, 4796, 4892, 4940, 5484, 5568, 5664, 6036, 6084, 6168, 6228, 6600, 6840, 7200, 7524, 8136, 8256, 8304, 8376, 8412, 9096, 9240, 9612];
const adc6145 = [68, 320, 1148, 1496, 1520, 1916, 2072, 2468, 2996, 3164, 3896, 4112, 4136, 4328, 4360, 4556, 4808, 4980, 5388, 5676, 5724, 5892, 5912, 6132, 7140, 7260, 8004, 8064, 8208, 8496, 8556, 8772, 9276, 9360, 9504];
const adc6144 = [428, 644, 896, 1600, 1640, 1868, 2036, 3368, 3512, 4592, 6936, 7656, 7992, 8376, 8424, 8520, 8688, 8720];
const adc6143 = [2204, 2492, 2756, 3812, 3956, 4748, 5472, 6024, 6240, 7320, 8016, 9300, 9648];
const adc6142 = [5616, 6960, 8652, 8684, 9012, 9396, 9480, 9592];
const adc6141 = [2444, 3344, 4820, 6072, 7896, 8220, 8412];
const adc6140 = [1472, 3344, 4280, 5772];
const adc6139 = [1472, 3920, 4172, 4556, 5580, 6648, 7632, 7660];
const adc6138 = [752];
const adc6137 = [788, 1352, 8076, 9060];
const adc6136 = [9780, 9852];
const adc6134 = [2060];

const adcLevels = [6134, 6136, 6137, 6138, 6139, 6140, 6141, 6142, 6143, 6144, 6145, 6146, 6147, 6148, 6149, 6150, 6151, 6152, 6153, 6154, 6155, 6156, 6157, 6158, 6159, 6160, 6161, 6162, 6163, 6164, 6165, 6166, 6167, 6168, 6169, 6170, 6171, 6172, 6173, 6174, 6175, 6176, 6177, 6178, 6179, 6180, 6181, 6182, 6183, 6184, 6185, 6186, 6187, 6188, 6189, 6190];
const samplesByLevel = [adc6134, adc6136, adc6137, adc6138, adc6139, adc6140, adc6141, adc6142, adc6143, adc6144, adc6145, adc6146, adc6147, adc6148, adc6149, adc6150, adc6151, adc6152, adc6153, adc6154, adc6155, adc6156, adc6157, adc6158, adc6159, adc6160, adc6161, adc6162, adc6163, adc6164, adc6165, adc6166, adc6167, adc6168, adc6169, adc6170, adc6171, adc6172, adc6173, adc6174, adc6175, adc6176, adc6177, adc6178, adc6179, adc6180, adc6181, adc6182, adc6183, adc6184, adc6185, adc6186, adc6187, adc6188, adc6189, adc6190];

const xTickValues = [0, 2000, 4000, 6000, 8000, 10000];
const yTickValues = [6140, 6150, 6160, 6170, 6180, 6190];

const chartTitle = 'Run 525, channel071, Pedestal';
const xTitle = 'Sample #';
const yTitle = 'ADC Counts';
const legendName = 'Samples';
const legendMean = '6163.2';
const legendSigma = '7.69';

const FONT = '"DejaVu Sans"';

const points = [];
adcLevels.forEach((level, i) => {
    samplesByLevel[i].forEach(sample => points.push({ x: sample, y: level }));
});

// Frame on all four sides and the matplotlib style legend box
const framePlugin = {
    id: 'frame',
    afterDraw(chart) {
        const { ctx, chartArea: a } = chart;
        ctx.save();

        ctx.strokeStyle = '#000';
        ctx.lineWidth = 1.1;
        ctx.strokeRect(a.left, a.top, a.right - a.left, a.bottom - a.top);

        // legend box
        ctx.beginPath();
        ctx.roundRect(781.5, 42.5, 196, 45, 3);
        ctx.fillStyle = 'rgba(255,255,255,0.8)';
        ctx.fill();
        ctx.strokeStyle = 'rgba(204,204,204,0.8)';
        ctx.lineWidth = 1;
        ctx.stroke();

        ctx.beginPath();
        ctx.arc(800, 65, 3, 0, Math.PI * 2);
        ctx.fillStyle = '#000';
        ctx.fill();

        ctx.textBaseline = 'alphabetic';
        ctx.textAlign = 'left';
        ctx.font = '13.9px ' + FONT;
        ctx.fillText(legendName, 826, 59);

        let x = 826;
        const parts = [['μ', true], [' = ' + legendMean + ', ', false], ['σ', true], [' = ' + legendSigma, false]];
        parts.forEach(p => {
            ctx.font = (p[1] ? 'italic ' : '') + '13.9px ' + FONT;
            ctx.fillText(p[0], x, 76);
            x += ctx.measureText(p[0]).width;
        });

        ctx.restore();
    }
};

const pedestalCtx = document.getElementById('pedestalChart').getContext('2d');
const pedestalChart = new Chart(pedestalCtx, {
    type: 'scatter',
    data: {
        datasets: [{
            label: legendName,
            data: points,
            backgroundColor: '#000',
            borderWidth: 0,
            pointRadius: 3
        }]
    },
    options: {
        responsive: false,
        animation: false,
        layout: { padding: { right: 15 } },
        plugins: {
            legend: { display: false },
            tooltip: { enabled: false },
            title: {
                display: true,
                text: chartTitle,
                fullSize: false,
                color: '#000',
                font: { family: FONT, size: 16.7, weight: 'normal', lineHeight: 1.2 },
                padding: { top: 12, bottom: 3 }
            }
        },
        scales: {
            x: {
                type: 'linear',
                min: -487,
                max: 10340,
                afterFit(scale) { scale.height = 58; },
                afterBuildTicks(scale) { scale.ticks = xTickValues.map(v => ({ value: v })); },
                border: { color: '#000', width: 1.1 },
                grid: { color: '#b0b0b0', lineWidth: 1.1, tickColor: '#000', tickLength: 5, tickWidth: 1.1 },
                ticks: {
                    maxRotation: 0,
                    autoSkip: false,
                    color: '#000',
                    padding: 3,
                    font: { family: FONT, size: 13.9 },
                    callback: value => String(value)
                },
                title: {
                    display: true,
                    text: xTitle,
                    color: '#000',
                    font: { family: FONT, size: 13.9 },
                    padding: { top: 0, bottom: 13 }
                }
            },
            y: {
                type: 'linear',
                min: 6131.2,
                max: 6192.9,
                afterFit(scale) { scale.width = 80.5; },
                afterBuildTicks(scale) { scale.ticks = yTickValues.map(v => ({ value: v })); },
                border: { color: '#000', width: 1.1 },
                grid: { color: '#b0b0b0', lineWidth: 1.1, tickColor: '#000', tickLength: 5, tickWidth: 1.1 },
                ticks: {
                    autoSkip: false,
                    color: '#000',
                    padding: 5,
                    font: { family: FONT, size: 13.9 },
                    callback: value => String(value)
                },
                title: {
                    display: true,
                    text: yTitle,
                    color: '#000',
                    font: { family: FONT, size: 13.9 },
                    padding: { top: 13, bottom: 0 }
                }
            }
        }
    },
    plugins: [framePlugin]
});
</script>
</body>
</html>
